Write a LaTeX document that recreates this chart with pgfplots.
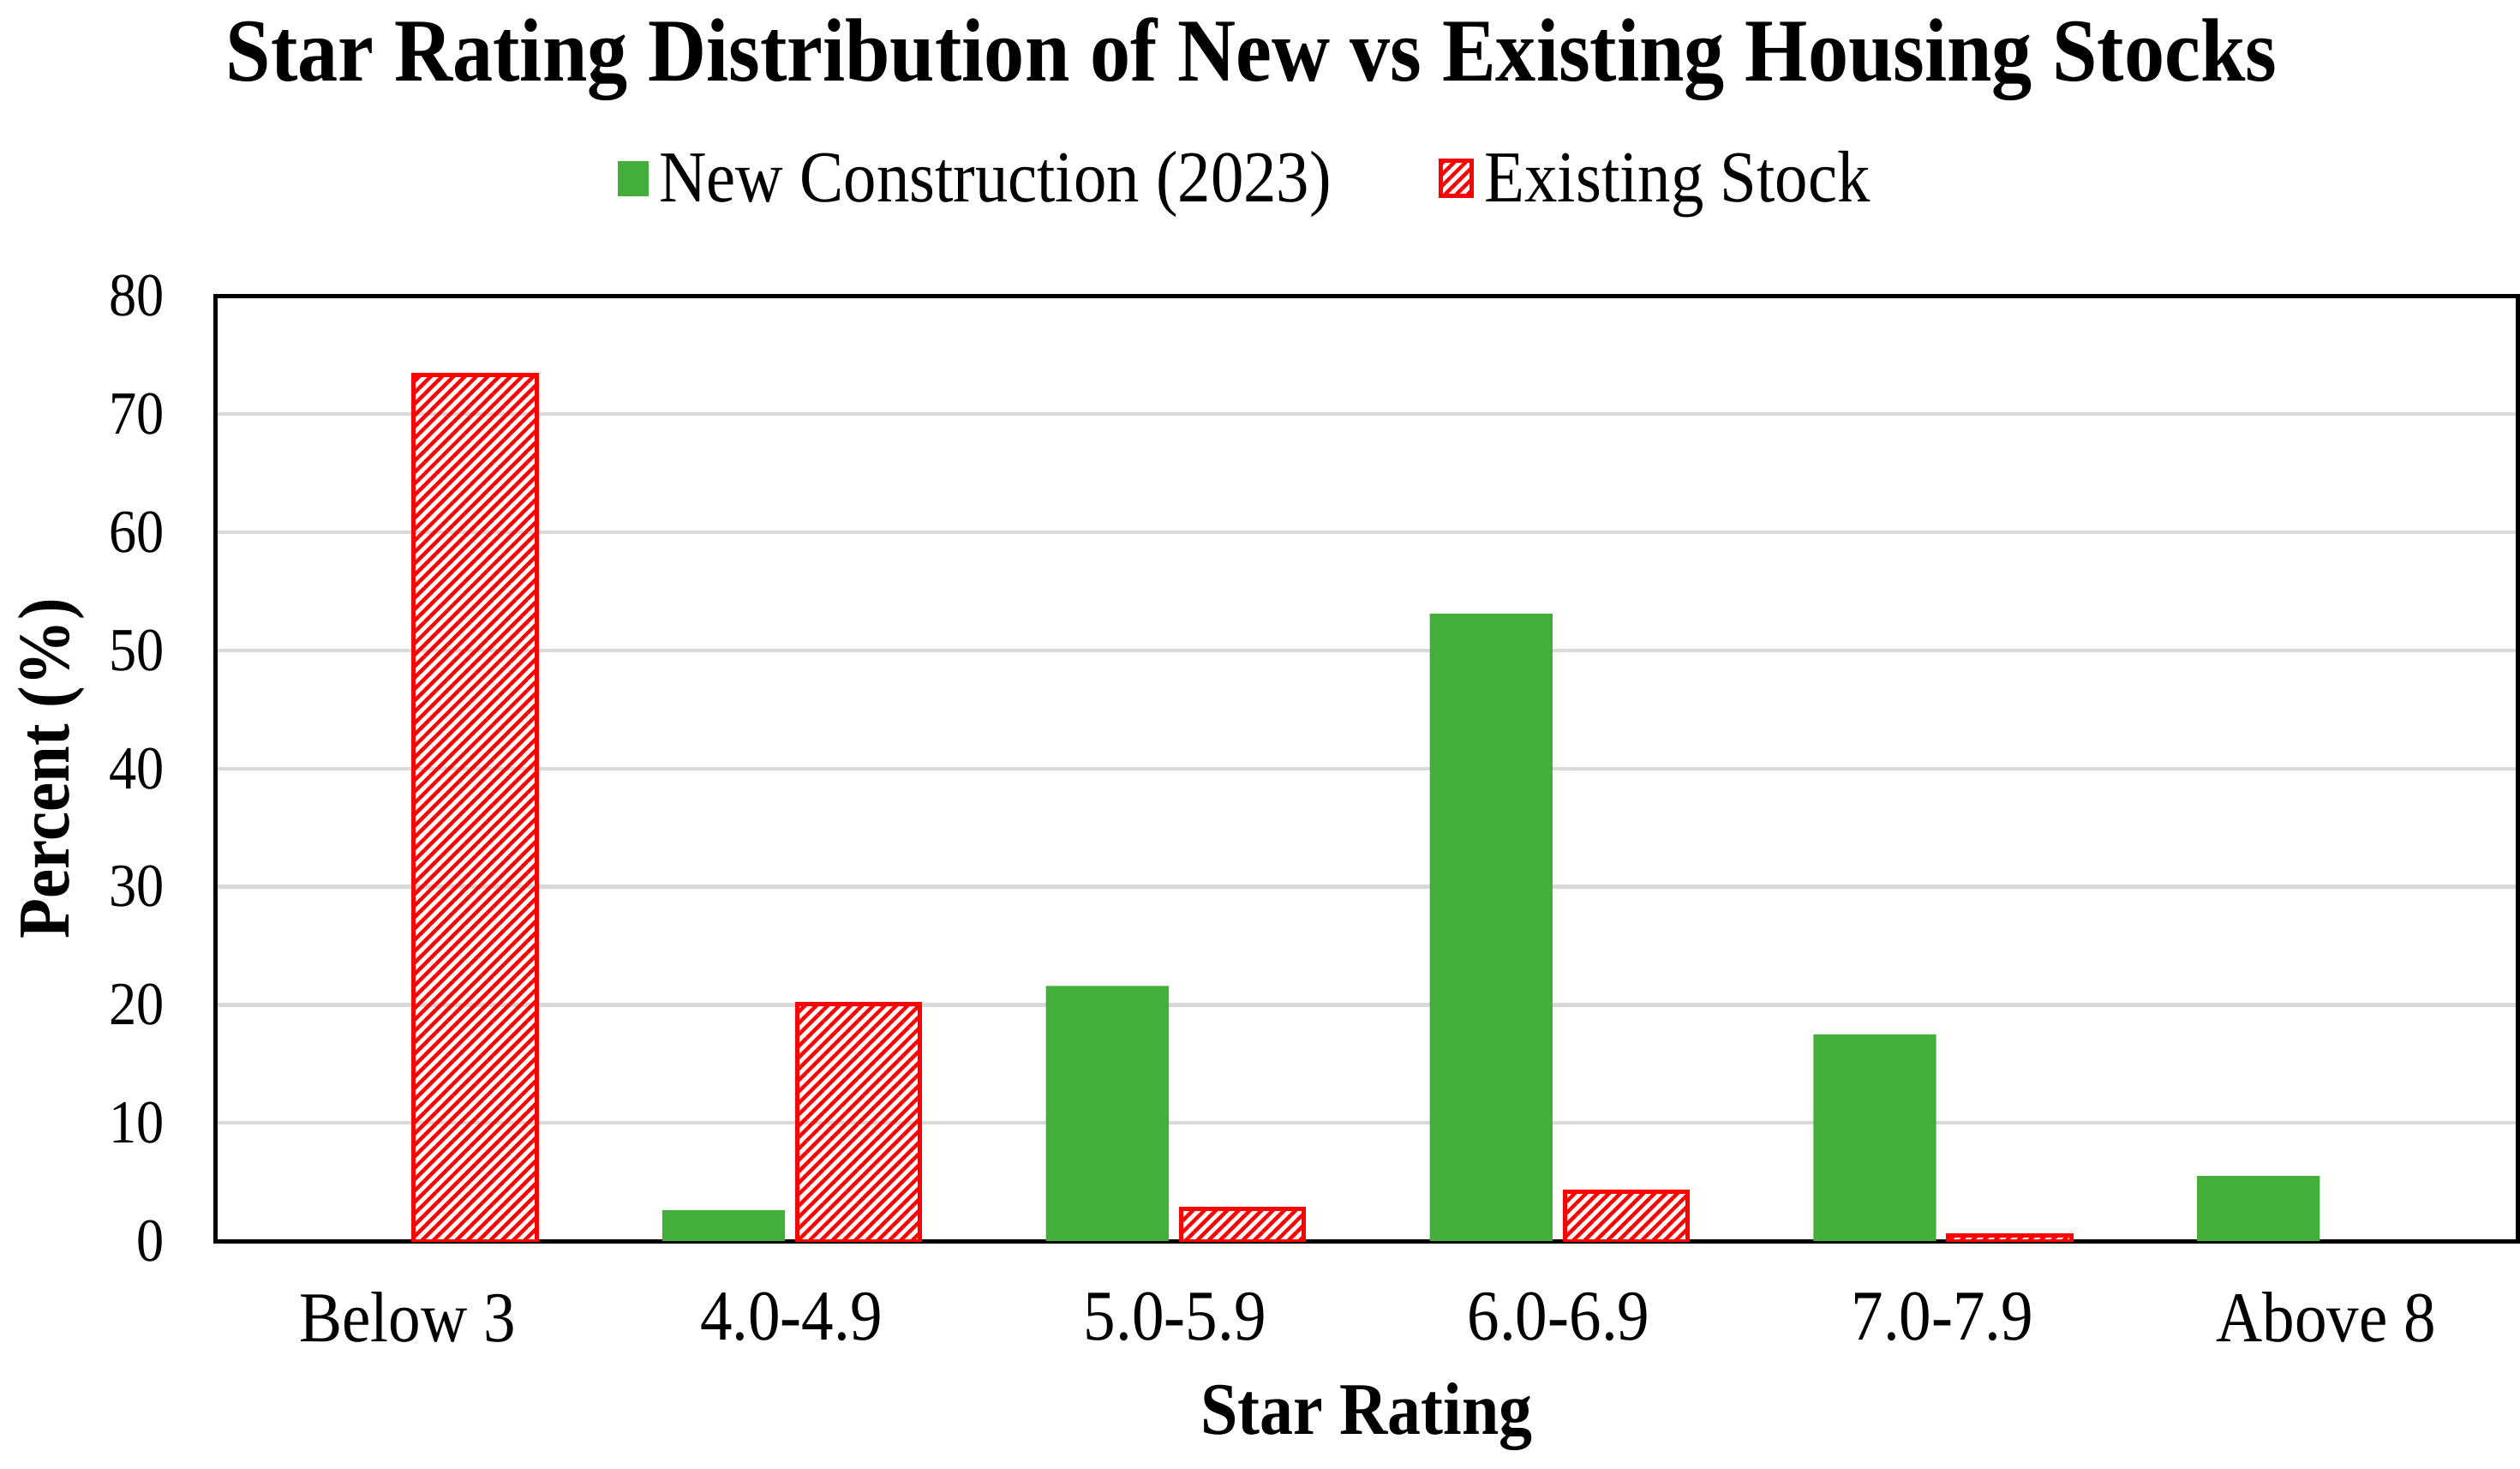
\documentclass[border=0pt]{standalone}
\usepackage{fontspec}
\setmainfont{Liberation Serif}[FakeStretch=0.9]
\usepackage{pgfplots}
\pgfplotsset{compat=1.18}
\usetikzlibrary{patterns.meta}
\definecolor{newgreen}{RGB}{67,174,58}
\definecolor{gridgray}{RGB}{217,217,217}
\begin{document}
\begin{tikzpicture}
\begin{axis}[
  scale only axis,
  width=428.4pt, height=175.8pt,
  xmin=-0.5, xmax=5.5,
  ymin=0, ymax=80,
  ytick={0,10,...,80},
  xtick={0,1,2,3,4,5},
  xticklabels={Below 3,4.0-4.9,5.0-5.9,6.0-6.9,7.0-7.9,Above 8},
  major tick length=0pt,
  ymajorgrids,
  grid style={gridgray, line width=0.7pt},
  axis line style={black, line width=0.8pt},
  /pgf/number format/assume math mode=true,
  yticklabel style={font=\fontsize{11.4}{13}\selectfont, xshift=-6pt},
  xticklabel style={font=\fontsize{13.3}{15}\selectfont, yshift=-6pt},
  xlabel={Star Rating},
  ylabel={Percent (\%)},
  xlabel style={font=\bfseries\fontsize{13.8}{15}\selectfont, at={(axis description cs:0.5,-0.186)}, anchor=center},
  ylabel style={font=\bfseries\fontsize{13.6}{15}\selectfont, at={(axis description cs:-0.0715,0.5)}, anchor=center},
  title={Star Rating Distribution of New vs Existing Housing Stocks},
  title style={font=\bfseries\fontsize{16.7}{20}\selectfont, at={(axis description cs:0.45,1.259)}, anchor=center, yshift=-7.5pt},
  legend style={at={(axis description cs:0.449,1.122)}, anchor=center, draw=none, legend columns=2,
    font=\fontsize{13.6}{15}\selectfont,
    /tikz/every even column/.append style={column sep=18pt}},
  ybar, bar width=0.32,
]
\addplot[fill=newgreen, draw=none, bar shift=-0.176,
  legend image code/.code={\fill[newgreen] (0cm,-0.1cm) rectangle (0.2cm,0.13cm);}]
  coordinates {(1,2.6) (2,21.6) (3,53.1) (4,17.5) (5,5.5)};
\addplot[draw=red, line width=0.8pt, pattern={Lines[angle=45,distance=1.5pt,line width=0.7pt]}, pattern color=red, bar shift=0.176,
  legend image code/.code={\draw[red, line width=0.8pt, pattern={Lines[angle=45,distance=1.5pt,line width=0.7pt]}, pattern color=red] (0cm,-0.1cm) rectangle (0.2cm,0.13cm);}]
  coordinates {(0,73.3) (1,20.1) (2,2.7) (3,4.2) (4,0.5)};
\legend{New Construction (2023), Existing Stock}
\end{axis}
\end{tikzpicture}
\end{document}
